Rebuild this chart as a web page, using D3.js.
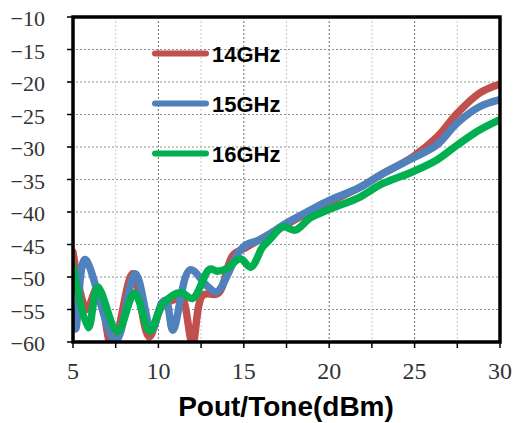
<!DOCTYPE html>
<html lang="en">
<head>
<meta charset="utf-8">
<title>IMD vs Pout/Tone</title>
<script src="https://cdn.jsdelivr.net/npm/d3@7"></script>
<style>
body { margin:0; background:#fff; }
.tick-y { font: 22px "Liberation Serif", serif; fill:#333; }
.tick-x { font: 24px "Liberation Serif", serif; fill:#333; }
.legend text { font: bold 22px "Liberation Sans", Arial, sans-serif; fill:#000; }
.xtitle { font: bold 28px "Liberation Sans", Arial, sans-serif; fill:#000; }
</style>
</head>
<body>
<div id="main"></div>
<script>
// data
var xTicks = [5, 10, 15, 20, 25, 30]
var yTicks = [-10, -15, -20, -25, -30, -35, -40, -45, -50, -55, -60]
var seriesNames = ['14GHz', '15GHz', '16GHz']
var seriesColors = ['#C0504D', '#4F81BD', '#00B050']

var x14 = [5, 5.8, 6.45, 7.3, 8.5, 9.45, 10.25, 10.9, 11.35, 12.0, 12.6, 13.5, 14.35, 15.1, 16.1, 17.5, 18.9, 20, 21.8, 23, 24.9, 26.3, 27.5, 28.8, 30]
var y14 = [-46.2, -55, -51.5, -61, -49.5, -59.2, -54.3, -53.5, -53, -60.2, -52.8, -52.5, -46.7, -45.5, -44, -41.9, -39.9, -38.5, -36.2, -34.3, -31.5, -28.5, -24.8, -21.7, -20.3]

var x15 = [5, 5.15, 5.7, 7.5, 8.65, 9.6, 10.2, 10.45, 10.85, 11.85, 12.9, 13.4, 14.7, 15.1, 16.0, 17.5, 18.9, 20, 21.8, 23, 24.9, 26.3, 27.5, 28.8, 30]
var y15 = [-56.5, -58, -47.3, -59.8, -49.5, -58.2, -54, -53.6, -58.2, -48.9, -51.5, -52.3, -46.2, -45.1, -44.2, -41.7, -39.7, -38.2, -36.2, -34.3, -31.7, -29.7, -26.3, -23.8, -22.7]

var x16 = [5, 5.9, 6.45, 7.6, 8.6, 9.5, 10.25, 11.3, 12.0, 13.0, 13.45, 14.0, 14.8, 15.4, 16.1, 16.5, 17.3, 18.0, 18.9, 20, 21.8, 23, 24.9, 26.3, 27.5, 28.8, 30]
var y16 = [-48.5, -57.8, -51.6, -58.4, -52.5, -58.3, -54.2, -52.4, -53.3, -48.8, -49.1, -48.7, -47.2, -48.5, -45.4, -44.3, -42.3, -42.8, -40.9, -39.6, -37.7, -35.8, -33.8, -32, -29.7, -27.4, -25.8]

var width = 517, height = 423
var pLeft = 73, pRight = 500, pTop = 17, pBottom = 342

var svg = d3.select("#main").append("svg").attr("width", width).attr("height", height)

var x = d3.scaleLinear().domain([5, 30]).range([pLeft, pRight])
var y = d3.scaleLinear().domain([-60, -10]).range([pBottom, pTop])

// grid
var minorX = d3.range(7.5, 30, 5)
svg.append("g").selectAll("line").data(minorX).enter().append("line")
  .attr("x1", d => x(d)).attr("x2", d => x(d)).attr("y1", pTop).attr("y2", pBottom)
  .attr("stroke", "#c8c8c8").attr("stroke-width", 1).attr("stroke-dasharray", "2,2")
svg.append("g").selectAll("line").data(xTicks.slice(1, -1)).enter().append("line")
  .attr("x1", d => x(d)).attr("x2", d => x(d)).attr("y1", pTop).attr("y2", pBottom)
  .attr("stroke", "#707070").attr("stroke-width", 1).attr("stroke-dasharray", "2,2")
svg.append("g").selectAll("line").data(yTicks.slice(1, -1)).enter().append("line")
  .attr("x1", pLeft - 5).attr("x2", pRight).attr("y1", d => y(d)).attr("y2", d => y(d))
  .attr("stroke", "#909090").attr("stroke-width", 1).attr("stroke-dasharray", "2,2")

// tick labels
svg.append("g").selectAll("text").data(yTicks).enter().append("text")
  .attr("class", "tick-y")
  .attr("x", 45).attr("y", d => y(d) + 9)
  .attr("text-anchor", "end")
  .text(d => "\u2212" + Math.abs(d))
svg.append("g").selectAll("text").data(xTicks).enter().append("text")
  .attr("class", "tick-x")
  .attr("x", d => x(d)).attr("y", 379)
  .attr("text-anchor", "middle")
  .text(d => d)

// x ticks (every 2.5) and y ticks
svg.append("g").selectAll("line").data(d3.range(5, 30.1, 2.5)).enter().append("line")
  .attr("x1", d => x(d)).attr("x2", d => x(d)).attr("y1", pBottom).attr("y2", pBottom + 6)
  .attr("stroke", "#000").attr("stroke-width", 1.5)
svg.append("g").selectAll("line").data(yTicks).enter().append("line")
  .attr("x1", pLeft - 6).attr("x2", pLeft).attr("y1", d => y(d)).attr("y2", d => y(d))
  .attr("stroke", "#000").attr("stroke-width", 1.5)

// lines
svg.append("clipPath").attr("id", "clip").append("rect")
  .attr("x", pLeft).attr("y", pTop).attr("width", pRight - pLeft).attr("height", pBottom - pTop)

var line = d3.line().x(d => x(d[0])).y(d => y(d[1])).curve(d3.curveCatmullRom.alpha(0.5))
var series = [d3.zip(x14, y14), d3.zip(x15, y15), d3.zip(x16, y16)]

svg.append("g").attr("clip-path", "url(#clip)").selectAll("path").data(series).enter().append("path")
  .attr("d", line)
  .attr("fill", "none")
  .attr("stroke", (d, i) => seriesColors[i])
  .attr("stroke-width", 7.5)
  .attr("stroke-linejoin", "round")
  .attr("stroke-linecap", "round")

// frame
svg.append("rect").attr("x", pLeft).attr("y", pTop).attr("width", pRight - pLeft).attr("height", pBottom - pTop)
  .attr("fill", "none").attr("stroke", "#000").attr("stroke-width", 3.5)

// legend
var legend = svg.append("g").attr("class", "legend")
seriesNames.forEach(function(name, i) {
  var ly = 53.5 + i * 50
  legend.append("line").attr("x1", 155).attr("x2", 206).attr("y1", ly).attr("y2", ly)
    .attr("stroke", seriesColors[i]).attr("stroke-width", 6).attr("stroke-linecap", "round")
  legend.append("text").attr("x", 212).attr("y", ly + 8).text(name)
})

// axis title
svg.append("text").attr("class", "xtitle")
  .attr("x", 286).attr("y", 416).attr("text-anchor", "middle")
  .text("Pout/Tone(dBm)")
</script>
</body>
</html>
